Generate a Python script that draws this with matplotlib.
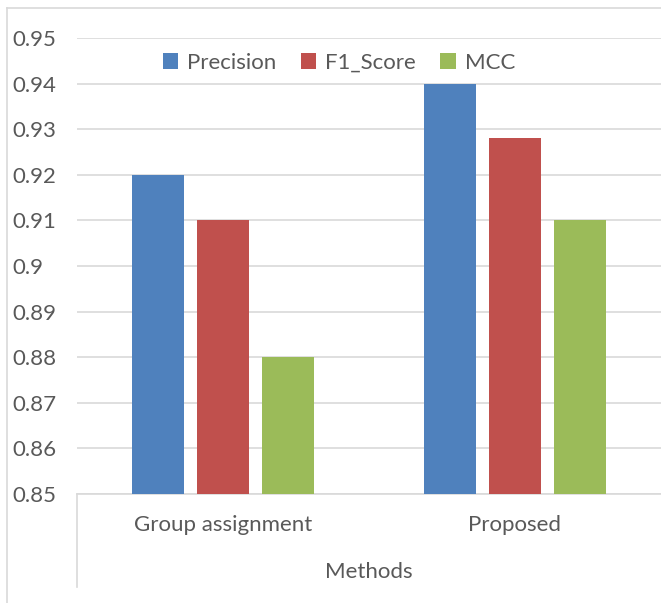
import matplotlib.pyplot as plt
from matplotlib.lines import Line2D
from matplotlib.patches import Patch

methods = ["Group assignment", "Proposed"]
series = ["Precision", "F1_Score", "MCC"]
precision = [0.92, 0.94]
f1_score = [0.91, 0.928]
mcc = [0.88, 0.91]
y_ticks = [0.85, 0.86, 0.87, 0.88, 0.89, 0.9, 0.91, 0.92, 0.93, 0.94, 0.95]
y_tick_labels = ["0.85", "0.86", "0.87", "0.88", "0.89", "0.9", "0.91", "0.92", "0.93", "0.94", "0.95"]

colors = ["#4F81BD", "#C0504D", "#9BBB59"]
text_color = "#595959"
line_color = "#D9D9D9"
font = "Lato"
fs = 16

W, H = 661, 603
fig = plt.figure(figsize=(W / 100, H / 100), dpi=100)
fig.patch.set_facecolor("white")

x0, x1 = 77, 661
y_top, y_bot = 38, 494
ax = fig.add_axes([x0 / W, 1 - y_bot / H, (x1 - x0) / W, (y_bot - y_top) / H])

width = 0.175
step = 0.2226
xs = list(range(len(methods)))
for i, (vals, name) in enumerate(zip([precision, f1_score, mcc], series)):
    ax.bar([x + (i - 1) * step for x in xs], [v - 0.85 for v in vals], bottom=0.85,
           width=width, color=colors[i], label=name, zorder=3)

ax.set_xlim(-0.5, 1.5)
ax.set_ylim(0.85, 0.95)
ax.set_yticks(y_ticks)
ax.set_yticklabels(y_tick_labels)
ax.grid(axis="y", color=line_color, linewidth=1.2, zorder=0)
ax.set_xticks([])
for s in ["top", "right", "left"]:
    ax.spines[s].set_visible(False)
ax.spines["bottom"].set_color(line_color)
ax.spines["bottom"].set_linewidth(1.2)
ax.tick_params(axis="y", length=0, pad=65 * 72 / 100, labelsize=fs, labelcolor=text_color)
for lbl in ax.get_yticklabels():
    lbl.set_horizontalalignment("left")
    lbl.set_fontfamily(font)

# category labels and axis title below the plot
for x, m in zip(xs, methods):
    fig.text((x0 + (x + 0.5) * (x1 - x0) / 2) / W, 1 - 525 / H, m, ha="center", va="center",
             fontsize=fs, color=text_color, family=font)
fig.text(((x0 + x1) / 2) / W, 1 - 572 / H, "Methods", ha="center", va="center",
         fontsize=fs, color=text_color, family=font)

# axis extension below the plot and chart frame
fig.add_artist(Line2D([x0 / W, x0 / W], [1 - y_bot / H, 1 - 587 / H], color=line_color, lw=1.2))
fig.add_artist(Line2D([7 / W, 7 / W], [0, 1 - 8 / H], color=line_color, lw=1.2))
fig.add_artist(Line2D([7 / W, 1], [1 - 8 / H, 1 - 8 / H], color=line_color, lw=1.2))

handles = [Patch(facecolor=c, edgecolor="none") for c in colors]
fig.legend(handles, series, loc="center", bbox_to_anchor=(339 / W, 1 - 63 / H),
           ncol=3, frameon=False, handlelength=0.7, handleheight=0.7, handletextpad=0.4,
           columnspacing=1.1, prop={"family": font, "size": fs}, labelcolor=text_color)

fig.savefig("out.png", dpi=100, facecolor="white")
